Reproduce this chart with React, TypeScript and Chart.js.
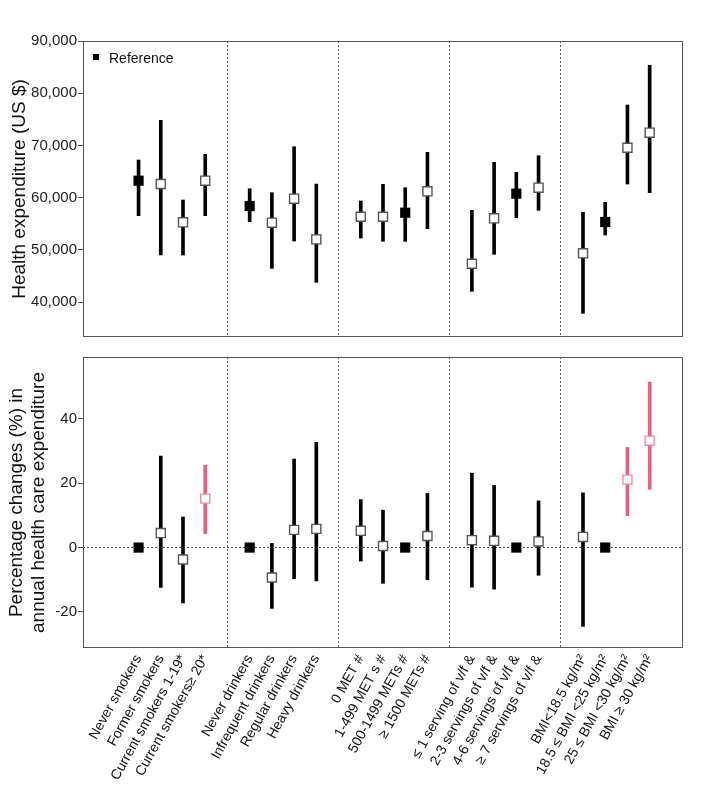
import React, { useEffect, useRef } from 'react';
import { Chart, registerables } from 'chart.js';

Chart.register(...registerables);

const FONT = "'Liberation Sans', Arial, sans-serif";

// Categories (5 groups of 4)
const categories = [
  'Never smokers', 'Former smokers', 'Current smokers 1-19*', 'Current smokers\u2265 20*',
  'Never drinkers', 'Infrequent drinkers', 'Regular drinkers', 'Heavy drinkers',
  '0 MET #', '1-499 MET s #', '500-1499 METs #', '\u2265 1500 METs #',
  '\u2264 1 serving of v/f &', '2-3 servings of v/f &', '4-6 servings of v/f &', '\u2265 7 servings of v/f &',
  'BMI<18.5 kg/m\u00b2', '18.5 \u2264 BMI <25 kg/m\u00b2', '25 \u2264 BMI <30 kg/m\u00b2', 'BMI \u2265 30 kg/m\u00b2',
];
const referenceIdx = [0, 4, 10, 14, 17];
const legendLabel = 'Reference';

// Top panel: health expenditure (US $)
const expEstimate = [63240, 62600, 55270, 63240, 58390, 55200, 59800, 52000, 56340, 56340, 57110, 61200, 47340, 56030, 60750, 61900, 49330, 55330, 69560, 72440];
const expLower = [56540, 49000, 49000, 56540, 55400, 46450, 51690, 43770, 52260, 51630, 51630, 54040, 42050, 49140, 56150, 57570, 37830, 52840, 62600, 60940];
const expUpper = [67200, 74800, 59540, 68300, 61700, 60940, 69750, 62600, 59350, 62550, 61900, 68680, 57570, 66760, 64850, 68030, 57180, 59100, 77740, 85340];
const expTicks = [40000, 50000, 60000, 70000, 80000, 90000];

// Bottom panel: percentage changes (%)
const pctEstimate = [0, 4.5, -3.7, 15.2, 0, -9.3, 5.5, 5.8, 5.2, 0.5, 0, 3.6, 2.3, 2.1, 0, 1.9, 3.3, 0, 21.1, 33.2];
const pctLower = [null, -12.4, -17.2, 4.3, null, -18.9, -9.7, -10.4, -4.2, -11.1, null, -10.0, -12.3, -12.9, null, -8.6, -24.5, null, 9.9, 18.1];
const pctUpper = [null, 28.4, 9.5, 25.6, null, 1.3, 27.5, 32.7, 14.9, 11.6, null, 16.8, 23.1, 19.3, null, 14.5, 17.0, null, 31.1, 51.4];
const pctSignificant = [3, 18, 19];
const pctTicks = [-20, 0, 20, 40];

const PINK_LINE = '#E5627F';
const PINK_PT = '#F08CA3';
const GREY = '#555555';

const pos = (i: number) => Math.floor(i / 4) * 5 + (i % 4) + 1;
const dividers = [5, 10, 15, 20];
const tickPositions = Array.from({ length: 24 }, (_, k) => k + 1);
const labelAt: Record<number, string> = {};
categories.forEach((c, i) => { labelAt[pos(i)] = c; });

const boxPlugin = {
  id: 'box',
  afterDraw(chart: any) {
    const { ctx, chartArea } = chart;
    const { left, top, right, bottom } = chartArea;
    ctx.save();
    ctx.strokeStyle = '#555';
    ctx.lineWidth = 1;
    ctx.strokeRect(Math.round(left) + 0.5, Math.round(top) + 0.5, Math.round(right - left) - 1, Math.round(bottom - top) - 1);
    ctx.restore();
  },
};

const legendPlugin = {
  id: 'insideLegend',
  afterDraw(chart: any) {
    const { ctx, chartArea } = chart;
    const { left, top } = chartArea;
    ctx.save();
    ctx.fillStyle = '#000';
    ctx.fillRect(left + 10, top + 13, 6, 6);
    ctx.fillStyle = '#111';
    ctx.font = `14px ${FONT}`;
    ctx.textBaseline = 'middle';
    ctx.textAlign = 'left';
    ctx.fillText(legendLabel, left + 26, top + 18);
    ctx.restore();
  },
};

function buildDatasets(est: number[], lo: (number | null)[], hi: (number | null)[], sig: number[]) {
  const refPts = referenceIdx.map((i) => ({ x: pos(i), y: est[i] }));
  const estIdx = est.map((_, i) => i).filter((i) => !referenceIdx.includes(i));
  const estPts = estIdx.map((i) => ({ x: pos(i), y: est[i] }));
  const estColors = estIdx.map((i) => (sig.includes(i) ? PINK_PT : GREY));
  const ciIdx = est.map((_, i) => i).filter((i) => lo[i] !== null && hi[i] !== null);
  const ciPts = ciIdx.map((i) => ({ x: pos(i), y: [lo[i] as number, hi[i] as number] }));
  const ciColors = ciIdx.map((i) => (sig.includes(i) ? PINK_LINE : '#000'));
  return [
    {
      type: 'scatter', label: legendLabel, data: refPts, order: 0,
      pointStyle: 'rect', pointRadius: 7.2, backgroundColor: '#000', borderColor: '#000', borderWidth: 0,
    },
    {
      type: 'scatter', label: 'Estimate', data: estPts, order: 1,
      pointStyle: 'rect', pointRadius: 6.4, backgroundColor: '#fff', borderColor: estColors, borderWidth: 1.4,
    },
    {
      type: 'bar', label: 'CI', data: ciPts, order: 2,
      backgroundColor: ciColors, borderWidth: 0, barThickness: 3, grouped: false,
    },
  ];
}

export default function App() {
  const topRef = useRef<HTMLCanvasElement>(null);
  const botRef = useRef<HTMLCanvasElement>(null);

  useEffect(() => {
    const xCommon = {
      type: 'linear', min: -1.5, max: 25.5, offset: false,
      afterBuildTicks: (s: any) => { s.ticks = tickPositions.map((v) => ({ value: v })); },
      grid: {
        offset: false,
        color: (c: any) => (c.tick && dividers.includes(c.tick.value) ? '#555' : 'rgba(0,0,0,0)'),
        drawTicks: false, lineWidth: 1,
      },
      border: { display: false, dash: [2, 2] },
    };

    const top = new Chart(topRef.current as HTMLCanvasElement, {
      type: 'scatter',
      data: { datasets: buildDatasets(expEstimate, expLower, expUpper, []) as any },
      options: {
        responsive: false, animation: false, events: [],
        layout: { padding: { left: 0, right: 21, top: 41, bottom: 10 } },
        plugins: { legend: { display: false }, tooltip: { enabled: false } },
        scales: {
          x: { ...xCommon, ticks: { display: false }, afterFit: (s: any) => { s.height = 0; } } as any,
          y: {
            type: 'linear', min: 33300, max: 90000,
            afterBuildTicks: (s: any) => { s.ticks = expTicks.map((v) => ({ value: v })); },
            afterFit: (s: any) => { s.width = 83; },
            ticks: { callback: (v: any) => Number(v).toLocaleString('en-US'), color: '#222', font: { size: 15, family: FONT }, padding: 1 },
            grid: { drawOnChartArea: false, drawTicks: true, tickLength: 5, tickColor: '#555' },
            border: { display: false },
            title: { display: true, text: 'Health expenditure (US $)', color: '#111', font: { size: 19, family: FONT }, padding: { top: 8, bottom: 0 } },
          } as any,
        },
      },
      plugins: [boxPlugin, legendPlugin],
    } as any);

    const bot = new Chart(botRef.current as HTMLCanvasElement, {
      type: 'scatter',
      data: { datasets: buildDatasets(pctEstimate, pctLower, pctUpper, pctSignificant) as any },
      options: {
        responsive: false, animation: false, events: [],
        layout: { padding: { left: 0, right: 21, top: 10, bottom: 0 } },
        plugins: { legend: { display: false }, tooltip: { enabled: false } },
        scales: {
          x: {
            ...xCommon,
            afterFit: (s: any) => { s.height = 149; },
            ticks: {
              autoSkip: false, maxRotation: 61, minRotation: 61, padding: 4,
              color: '#111', font: { size: 14, family: FONT },
              callback: (v: any) => labelAt[v] ?? '',
            },
          } as any,
          y: {
            type: 'linear', min: -31.2, max: 59.2,
            afterBuildTicks: (s: any) => { s.ticks = pctTicks.map((v) => ({ value: v })); },
            afterFit: (s: any) => { s.width = 83; },
            ticks: { color: '#222', font: { size: 15, family: FONT }, padding: 1 },
            grid: {
              color: (c: any) => (c.tick && c.tick.value === 0 ? '#444' : 'rgba(0,0,0,0)'),
              drawOnChartArea: true, drawTicks: true, tickLength: 5, tickColor: '#555',
            },
            border: { display: false, dash: [2, 2] },
            title: {
              display: true, text: ['Percentage changes (%) in', 'annual health care expenditure'], color: '#111',
              font: { size: 19, family: FONT, lineHeight: 1.2 }, padding: { top: 5, bottom: 0 },
            },
          } as any,
        },
      },
      plugins: [boxPlugin],
    } as any);

    return () => { top.destroy(); bot.destroy(); };
  }, []);

  return (
    <div style={{ position: 'absolute', left: 0, top: 0, width: 704, height: 797, background: '#fff' }}>
      <canvas ref={topRef} width={704} height={347} style={{ position: 'absolute', left: 0, top: 0, width: 704, height: 347 }} />
      <canvas ref={botRef} width={704} height={450} style={{ position: 'absolute', left: 0, top: 347, width: 704, height: 450 }} />
    </div>
  );
}
